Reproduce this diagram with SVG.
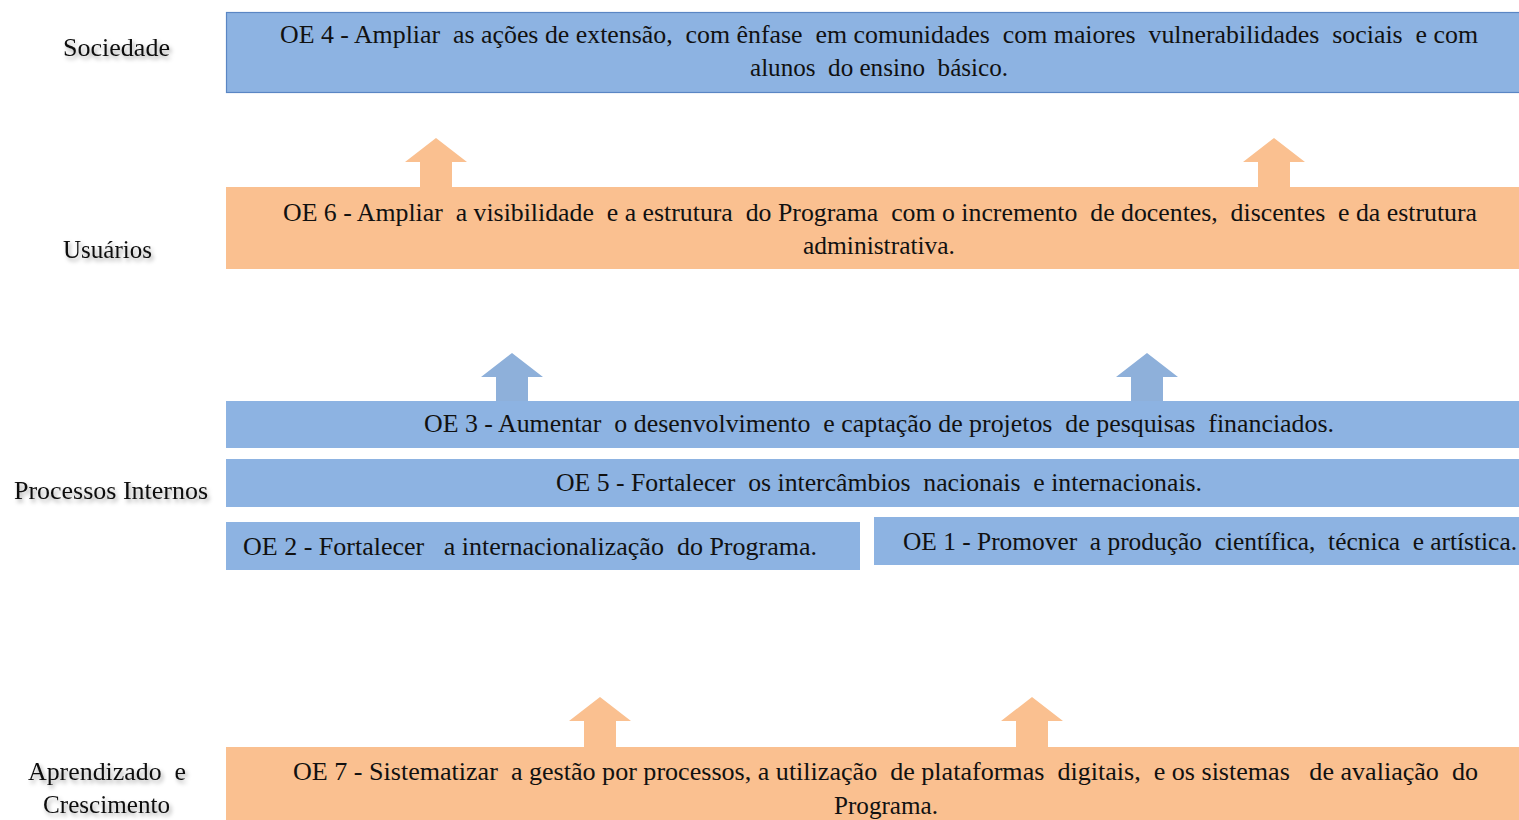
<svg xmlns="http://www.w3.org/2000/svg" width="1519" height="820" viewBox="0 0 1519 820">
<style>
text{fill:#111;white-space:pre}
.lbl{filter:url(#sh)}
.blue{fill:#8DB3E2}
.orange{fill:#FAC090}
.ablue{fill:#8EB0DA}
</style>
<defs>
<filter id="sh" x="-20%" y="-50%" width="140%" height="200%">
<feDropShadow dx="2" dy="3" stdDeviation="2" flood-color="#000" flood-opacity="0.35"/>
</filter>
<path id="arr" d="M0,0 L31,24 L16,24 L16,50 L-16,50 L-16,24 L-31,24 Z"/>
</defs>
<rect width="1519" height="820" fill="#fff"/>
<g id="labels" font-family="Liberation Serif, Times New Roman, serif" font-size="25" xml:space="preserve">
<text class="lbl" x="63" y="56" textLength="107" lengthAdjust="spacingAndGlyphs">Sociedade</text>
<text class="lbl" x="63" y="258" textLength="89" lengthAdjust="spacingAndGlyphs">Usuários</text>
<text class="lbl" x="14" y="499" textLength="194" lengthAdjust="spacingAndGlyphs">Processos Internos</text>
<text class="lbl" x="28" y="780" textLength="158" lengthAdjust="spacingAndGlyphs">Aprendizado  e</text>
<text class="lbl" x="43" y="813" textLength="127" lengthAdjust="spacingAndGlyphs">Crescimento</text>
</g>
<g id="connectors">
<use href="#arr" x="436" y="138" class="orange"/>
<use href="#arr" x="1274" y="138" class="orange"/>
<use href="#arr" x="512" y="353" class="ablue"/>
<use href="#arr" x="1147" y="353" class="ablue"/>
<use href="#arr" x="600" y="697" class="orange"/>
<use href="#arr" x="1032" y="697" class="orange"/>
</g>
<g font-family="Liberation Serif, Times New Roman, serif" font-size="25" xml:space="preserve">
<g id="oe4">
<rect x="226.5" y="12.5" width="1300" height="80" class="blue" stroke="#5A86C4" stroke-width="1.2"/>
<text x="280" y="43" textLength="1198" lengthAdjust="spacingAndGlyphs">OE 4 - Ampliar  as ações de extensão,  com ênfase  em comunidades  com maiores  vulnerabilidades  sociais  e com</text>
<text x="750" y="76" textLength="258" lengthAdjust="spacingAndGlyphs">alunos  do ensino  básico.</text>
</g>
<g id="oe6">
<rect x="226" y="187" width="1293" height="82" class="orange"/>
<text x="283" y="221" textLength="1194" lengthAdjust="spacingAndGlyphs">OE 6 - Ampliar  a visibilidade  e a estrutura  do Programa  com o incremento  de docentes,  discentes  e da estrutura</text>
<text x="803" y="254" textLength="152" lengthAdjust="spacingAndGlyphs">administrativa.</text>
</g>
<g id="oe3">
<rect x="226" y="401" width="1293" height="47" class="blue"/>
<text x="424" y="432" textLength="910" lengthAdjust="spacingAndGlyphs">OE 3 - Aumentar  o desenvolvimento  e captação de projetos  de pesquisas  financiados.</text>
</g>
<g id="oe5">
<rect x="226" y="459" width="1293" height="48" class="blue"/>
<text x="556" y="491" textLength="646" lengthAdjust="spacingAndGlyphs">OE 5 - Fortalecer  os intercâmbios  nacionais  e internacionais.</text>
</g>
<g id="oe2">
<rect x="226" y="522" width="634" height="48" class="blue"/>
<text x="243" y="555" textLength="574" lengthAdjust="spacingAndGlyphs">OE 2 - Fortalecer   a internacionalização  do Programa.</text>
</g>
<g id="oe1">
<rect x="874" y="517" width="645" height="48" class="blue"/>
<text x="903" y="550" textLength="614" lengthAdjust="spacingAndGlyphs">OE 1 - Promover  a produção  científica,  técnica  e artística.</text>
</g>
<g id="oe7">
<rect x="226" y="747" width="1293" height="80" class="orange"/>
<text x="293" y="780" textLength="1185" lengthAdjust="spacingAndGlyphs">OE 7 - Sistematizar  a gestão por processos, a utilização  de plataformas  digitais,  e os sistemas   de avaliação  do</text>
<text x="834" y="814" textLength="104" lengthAdjust="spacingAndGlyphs">Programa.</text>
</g>
</g>
</svg>
